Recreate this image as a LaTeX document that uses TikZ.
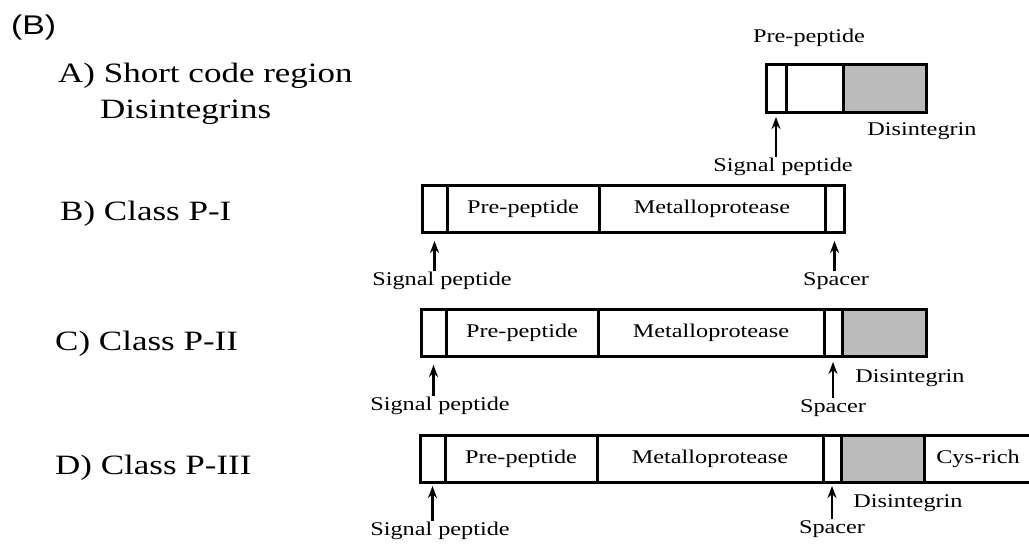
\documentclass[tikz,border=0pt]{standalone}
\usepackage{fontspec}
\setmainfont[FakeStretch=1.25]{Liberation Serif}
\newfontfamily\semserifa[FakeStretch=1.25]{Liberation Sans}
\usepackage{tikz}
\usetikzlibrary{arrows.meta, positioning, calc}

\begin{document}
\begin{tikzpicture}[x=1pt, y=-1pt,
  seg/.style={draw, line width=3pt, inner sep=0pt, outer sep=0pt, minimum height=47pt, anchor=north west, font=\fontsize{19.4}{22}\selectfont},
  dis/.style={seg, fill=cinza},
  rot/.style={font=\fontsize{19.4}{22}\selectfont, inner sep=1pt},
  tit/.style={font=\fontsize{28}{32}\selectfont, anchor=base west, inner sep=0pt},
  seta/.style={-{Stealth[length=12pt, width=9pt]}, line width=2.3pt}]
% --- DOMINIOS DAS SVMP: CAIXAS, ROTULOS E SETAS ---
\definecolor{cinza}{HTML}{BBBBBB}
\useasboundingbox (0,0) rectangle (1029,549);

% LAYER 1: Titulos da esquerda
\node[anchor=base west, inner sep=0pt, font=\semserifa\fontsize{27}{30}\selectfont] (painel) at (11,34) {(B)};
\node[tit] (titA) at (58,82) {A) Short code region};
\node[tit] (titA2) at (100,118) {Disintegrins};
\node[tit] (titB) at (60,220) {B) Class P-I};
\node[tit] (titC) at (55,350) {C) Class P-II};
\node[tit] (titD) at (55,474) {D) Class P-III};

% LAYER 2: A) Desintegrinas de codigo curto
\node[seg, minimum width=20pt, minimum height=48pt] (aSig) at (766,64) {};
\node[seg, minimum width=57pt, minimum height=48pt] (aPre) at (786,64) {};
\node[dis, minimum width=83pt, minimum height=48pt] (aDis) at (843,64) {};
\node[rot] (aLpre) at (809,38) {Pre-peptide};
\node[rot] (aLsig) at (783,167) {Signal peptide};
\node[rot] (aLdis) at (922,131) {Disintegrin};
\draw[seta] (aLsig.north -| aSig.south) -- ([yshift=-5pt]aSig.south);

% LAYER 3: B) Classe P-I
\node[seg, minimum width=25pt] (bSig) at (422,185) {};
\node[seg, minimum width=152pt] (bPre) at (447,185) {Pre-peptide};
\node[seg, minimum width=226pt] (bMet) at (599,185) {Metalloprotease};
\node[seg, minimum width=19pt] (bEsp) at (825,185) {};
\node[rot] (bLsig) at (442,281) {Signal peptide};
\node[rot] (bLesp) at (836,281) {Spacer};
\draw[seta] (bLsig.north -| bSig.south) -- ([yshift=-9pt]bSig.south);
\draw[seta] (bLesp.north -| bEsp.south) -- ([yshift=-9pt]bEsp.south);

% LAYER 4: C) Classe P-II
\node[seg, minimum width=25pt] (cSig) at (421,309) {};
\node[seg, minimum width=152pt] (cPre) at (446,309) {Pre-peptide};
\node[seg, minimum width=226pt] (cMet) at (598,309) {Metalloprotease};
\node[seg, minimum width=18pt] (cEsp) at (824,309) {};
\node[dis, minimum width=84pt] (cDis) at (842,309) {};
\node[rot] (cLsig) at (440,406) {Signal peptide};
\node[rot] (cLdis) at (910,378) {Disintegrin};
\node[rot] (cLesp) at (833,408) {Spacer};
\draw[seta] (cLsig.north -| cSig.south) -- ([yshift=-9pt]cSig.south);
\draw[seta] (cLesp.north -| cEsp.south) -- ([yshift=-6pt]cEsp.south);

% LAYER 5: D) Classe P-III
\node[seg, minimum width=25pt] (dSig) at (420,435) {};
\node[seg, minimum width=152pt] (dPre) at (445,435) {Pre-peptide};
\node[seg, minimum width=226pt] (dMet) at (597,435) {Metalloprotease};
\node[seg, minimum width=18pt] (dEsp) at (823,435) {};
\node[dis, minimum width=83pt] (dDis) at (841,435) {};
\node[seg, minimum width=108pt] (dCys) at (924,435) {Cys-rich};
\node[rot] (dLsig) at (440,531) {Signal peptide};
\node[rot] (dLdis) at (908,503) {Disintegrin};
\node[rot] (dLesp) at (832,529) {Spacer};
\draw[seta] (dLsig.north -| dSig.south) -- ([yshift=-4pt]dSig.south);
\draw[seta] (dLesp.north -| dEsp.south) -- ([yshift=-4pt]dEsp.south);
\end{tikzpicture}
\end{document}
